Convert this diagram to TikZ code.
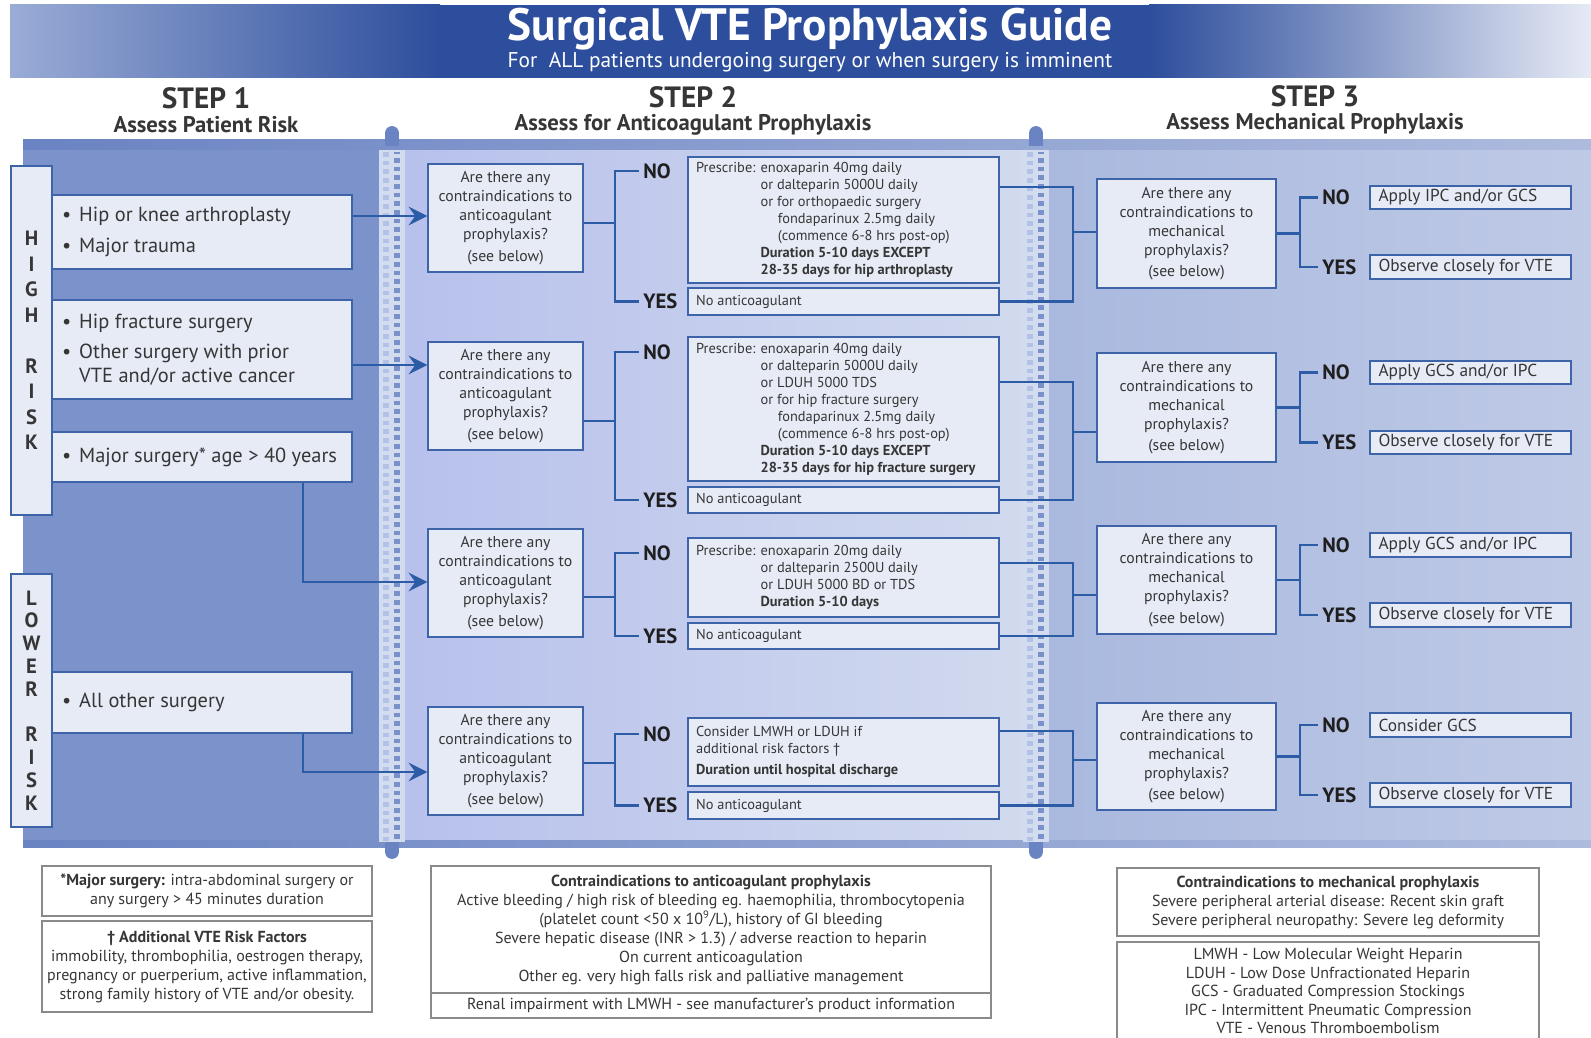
\documentclass[tikz,border=0pt]{standalone}
\usepackage{fontspec}
\setmainfont{PT Sans}
\usetikzlibrary{arrows.meta}
\definecolor{bannerdark}{HTML}{2D4E9C}
\definecolor{bannerleft}{HTML}{9AACD6}
\definecolor{bannerright}{HTML}{E6EAF5}
\definecolor{panelL}{HTML}{7B92CA}
\definecolor{panelM}{HTML}{C7D1EA}
\definecolor{panelR}{HTML}{A9B8DE}
\definecolor{stripC}{HTML}{6A83C2}
\definecolor{boxfill}{HTML}{E6EBF6}
\definecolor{boxline}{HTML}{3D64A9}
\definecolor{conn}{HTML}{2B5CA5}
\definecolor{txt}{HTML}{363636}
\definecolor{ynC}{HTML}{1F1F1F}
\definecolor{bindA}{HTML}{D3DBEF}
\definecolor{bindB}{HTML}{7A90CB}
\definecolor{bindC}{HTML}{B3C1E6}
\definecolor{notegray}{HTML}{8A8A8A}
\newcommand\fsz[2]{\fontsize{#1}{#2}\selectfont}
\newcommand\bnode[7]{\node[#1, minimum width={(#5-#3)*0.75pt}, minimum height={(#6-#4)*0.75pt}] (#2) at ({(#3+#5)/2},{(#4+#6)/2}) {#7};}
\newcommand\pind{\phantom{Prescribe: }}
\newcommand\bul{\textbullet\hspace{6pt}}
\newcommand\nobul{\phantom{\textbullet}\hspace{6pt}}
\begin{document}
\begin{tikzpicture}[x=0.75pt,y=-0.75pt,
  box/.style={draw=boxline, line width=1.1pt, fill=boxfill, inner sep=0pt, text=txt},
  riskbox/.style={box, align=center, font=\bfseries\fsz{15.5}{19.1}},
  sonebox/.style={box, font=\fsz{15.3}{17.6}},
  qbox/.style={box, align=center, font=\fsz{11.8}{14.25}},
  rbox/.style={box, font=\fsz{10.8}{12.75}},
  mbox/.style={box, font=\fsz{13}{14}},
  yn/.style={anchor=west, inner xsep=3pt, inner ysep=0pt, font=\bfseries\fsz{15.5}{15.5}, text=ynC},
  link/.style={draw=conn, line width=1.9pt},
  arr/.style={link, -{Stealth[length=14pt,width=14pt,inset=5pt]}},
  notebox/.style={draw=notegray, line width=0.9pt, fill=white, inner sep=0pt, align=center, text=txt, font=\fsz{12}{14.25}},
  headA/.style={font=\bfseries\fsz{22}{22}, text=txt},
  headB/.style={font=\bfseries\fsz{17}{17}, text=txt}
]
\useasboundingbox (0,0) rectangle (1591,1038);
\fill[white] (0,0) rectangle (1591,1038);
% banner
\shade[left color=bannerleft, right color=bannerdark] (10,5) rectangle (440,78);
\fill[bannerdark] (439,5) rectangle (1150,78);
\shade[left color=bannerdark, right color=bannerright] (1149,5) rectangle (1591,78);
\node[font=\bfseries\fsz{34}{34}, text=white] (title) at (810,29) {Surgical VTE Prophylaxis Guide};
\node[font=\fsz{16}{16}, text=white] (subtitle) at (810,62) {For\ \ ALL patients undergoing surgery or when surgery is imminent};
% step headers
\node[headA] (st1) at (206,98) {STEP 1};
\node[headB] (st1s) at (206,125) {Assess Patient Risk};
\node[headA] (st2) at (693,97) {STEP 2};
\node[headB] (st2s) at (693,125) {Assess for Anticoagulant Prophylaxis};
\node[headA] (st3) at (1315,96) {STEP 3};
\node[headB] (st3s) at (1315,124) {Assess Mechanical Prophylaxis};
% panels
\fill[panelL] (23,143) rectangle (392,845);
\shade[left color=panelM!92!blue, right color=panelM!80!white] (392,143) rectangle (1036,845);
\shade[left color=panelR, right color=panelR!75!white] (1036,143) rectangle (1591,845);
\shade[left color=stripC, right color=stripC!55!white] (23,140) rectangle (1591,150);
\shade[left color=stripC, right color=stripC!55!white] (23,840) rectangle (1591,847);
% bindings
\foreach \bx in {392,1036}{
  \fill[bindA] (\bx-13,150) rectangle (\bx+13,842);
  \draw[bindC, line width=4.5pt, dash pattern=on 3.5pt off 3pt] (\bx-6,152) -- (\bx-6,842);
  \draw[bindB, line width=5pt, dash pattern=on 3.5pt off 3pt, dash phase=2pt] (\bx+5,152) -- (\bx+5,842);
  \fill[stripC] (\bx-7,132) rectangle (\bx+7,146);
  \fill[stripC] (\bx,133) circle[radius=5.2pt];
  \fill[stripC] (\bx-7,842) rectangle (\bx+7,852);
  \fill[stripC] (\bx,852) circle[radius=5.2pt];
}
% risk labels
\bnode{riskbox}{high}{11}{166}{52}{515}{H\\I\\G\\H\\[19.1pt]R\\I\\S\\K}
\bnode{riskbox, font=\bfseries\fsz{15.5}{17.1}}{lower}{11}{574}{52}{827}{L\\O\\W\\E\\R\\[17.1pt]R\\I\\S\\K}
% step 1 boxes
\bnode{sonebox}{s1a}{52}{195}{352}{269}{\parbox{210pt}{\raggedright\bul Hip or knee arthroplasty\\[5pt]\bul Major trauma}}
\bnode{sonebox}{s1b}{52}{300}{352}{399}{\parbox{210pt}{\raggedright\bul Hip fracture surgery\\[5pt]\bul Other surgery with prior\\\nobul VTE and/or active cancer}}
\bnode{sonebox}{s1c}{52}{432}{352}{482}{\parbox{210pt}{\raggedright\bul Major surgery* age > 40 years}}
\bnode{sonebox}{s1d}{52}{672}{352}{733}{\parbox{210pt}{\raggedright\bul All other surgery}}
% step 2 question boxes
\foreach \nm/\ya/\yb in {q1/164/272, q2/342/450, q3/529/637, q4/707/815}{
  \bnode{qbox}{\nm}{428}{\ya}{583}{\yb}{Are there any\\contraindications to\\anticoagulant\\prophylaxis?\\[2pt](see below)}
}
% step 2 result boxes
\bnode{rbox}{r1}{688}{157}{999}{283}{\parbox{221pt}{\raggedright Prescribe: enoxaparin 40mg daily\\
\pind or dalteparin 5000U daily\\
\pind or for orthopaedic surgery\\
\pind\hspace{13pt}fondaparinux 2.5mg daily\\
\pind\hspace{13pt}(commence 6-8 hrs post-op)\\
\pind\textbf{Duration 5-10 days EXCEPT}\\
\pind\textbf{28-35 days for hip arthroplasty}}}
\bnode{rbox}{r2}{688}{337}{999}{481}{\parbox{221pt}{\raggedright Prescribe: enoxaparin 40mg daily\\
\pind or dalteparin 5000U daily\\
\pind or LDUH 5000 TDS\\
\pind or for hip fracture surgery\\
\pind\hspace{13pt}fondaparinux 2.5mg daily\\
\pind\hspace{13pt}(commence 6-8 hrs post-op)\\
\pind\textbf{Duration 5-10 days EXCEPT}\\
\pind\textbf{28-35 days for hip fracture surgery}}}
\bnode{rbox}{r3}{688}{538}{999}{617}{\parbox{221pt}{\raggedright Prescribe: enoxaparin 20mg daily\\
\pind or dalteparin 2500U daily\\
\pind or LDUH 5000 BD or TDS\\
\pind\textbf{Duration 5-10 days}}}
\bnode{rbox}{r4}{688}{718}{999}{786}{\parbox{221pt}{\raggedright Consider LMWH or LDUH if\\
additional risk factors †\\[3pt]
\textbf{Duration until hospital discharge}}}
\foreach \nm/\ya/\yb in {n1/288/315, n2/487/513, n3/623/649, n4/792/819}{
  \bnode{rbox}{\nm}{688}{\ya}{999}{\yb}{\parbox{221pt}{\raggedright No anticoagulant}}
}
% step 2 yes/no labels
\node[yn] (no1) at (639,171) {NO};
\node[yn] (yes1) at (639,301.5) {YES};
\node[yn] (no2) at (639,352) {NO};
\node[yn] (yes2) at (639,500) {YES};
\node[yn] (no3) at (639,553) {NO};
\node[yn] (yes3) at (639,636) {YES};
\node[yn] (no4) at (639,734) {NO};
\node[yn] (yes4) at (639,805.5) {YES};
% step 3 question boxes
\foreach \nm/\ya/\yb in {qa/179/288, qb/353/462, qc/526/634, qd/703/810}{
  \bnode{qbox}{\nm}{1097}{\ya}{1276}{\yb}{Are there any\\contraindications to\\mechanical\\prophylaxis?\\[2pt](see below)}
}
% step 3 result boxes
\bnode{mbox}{ma}{1370}{186}{1571}{209}{\parbox{138pt}{\raggedright Apply IPC and/or GCS}}
\bnode{mbox}{mb}{1370}{255}{1571}{279}{\parbox{138pt}{\raggedright Observe closely for VTE}}
\bnode{mbox}{mc}{1370}{361}{1571}{384}{\parbox{138pt}{\raggedright Apply GCS and/or IPC}}
\bnode{mbox}{md}{1370}{431}{1571}{454}{\parbox{138pt}{\raggedright Observe closely for VTE}}
\bnode{mbox}{me}{1370}{533}{1571}{557}{\parbox{138pt}{\raggedright Apply GCS and/or IPC}}
\bnode{mbox}{mf}{1370}{603}{1571}{627}{\parbox{138pt}{\raggedright Observe closely for VTE}}
\bnode{mbox}{mg}{1370}{713}{1571}{737}{\parbox{138pt}{\raggedright Consider GCS}}
\bnode{mbox}{mh}{1370}{783}{1571}{807}{\parbox{138pt}{\raggedright Observe closely for VTE}}
\node[yn] (noA) at (1318,197.5) {NO};
\node[yn] (yesA) at (1318,267) {YES};
\node[yn] (noB) at (1318,372.5) {NO};
\node[yn] (yesB) at (1318,442.5) {YES};
\node[yn] (noC) at (1318,545) {NO};
\node[yn] (yesC) at (1318,615) {YES};
\node[yn] (noD) at (1318,725) {NO};
\node[yn] (yesD) at (1318,795) {YES};
% step 1 arrows
\draw[arr] (s1a.east |- 0,216) -- (q1.west |- 0,216);
\draw[arr] (s1b.east |- 0,365) -- (q2.west |- 0,365);
\draw[arr] (s1c.south -| 303,0) -- (303,582) -- (q3.west |- 0,582);
\draw[arr] (s1d.south -| 303,0) -- (303,772) -- (q4.west |- 0,772);
% step 2 trunks
\foreach \q/\no/\yes/\yq in {q1/no1/yes1/223, q2/no2/yes2/421, q3/no3/yes3/597, q4/no4/yes4/763}{
  \draw[link] (\q.east |- 0,\yq) -- (615,\yq);
  \draw[link] (\no.west) -- (\no.west -| 615,0) -- (\yes.west -| 615,0) -- (\yes.west);
}
% step 2 -> step 3 brackets
\foreach \r/\n/\q/\yr/\yq in {r1/n1/qa/187/232, r2/n2/qb/382/432, r3/n3/qc/563/595, r4/n4/qd/731/760}{
  \draw[link] (\r.east |- 0,\yr) -- (1073,\yr) -- (\n.east -| 1073,0) -- (\n.east);
  \draw[link] (1073,\yq) -- (\q.west |- 0,\yq);
}
% step 3 trunks
\foreach \q/\no/\yes in {qa/noA/yesA, qb/noB/yesB, qc/noC/yesC, qd/noD/yesD}{
  \draw[link] (\q.east) -- (\q.east -| 1300,0);
  \draw[link] (\no.west) -- (\no.west -| 1300,0) -- (\yes.west -| 1300,0) -- (\yes.west);
}
% notes
\bnode{notebox}{note1}{42}{866}{372}{916}{\textbf{*Major surgery:} intra-abdominal surgery or\\any surgery > 45 minutes duration}
\bnode{notebox}{note2}{42}{921}{372}{1012}{\textbf{† Additional VTE Risk Factors}\\immobility, thrombophilia, oestrogen therapy,\\pregnancy or puerperium, active inflammation,\\strong family history of VTE and/or obesity.}
\bnode{notebox}{note3}{431}{866}{991}{993}{\textbf{Contraindications to anticoagulant prophylaxis}\\Active bleeding / high risk of bleeding eg. haemophilia, thrombocytopenia\\(platelet count <50 x 10\textsuperscript{9}/L), history of GI bleeding\\Severe hepatic disease (INR > 1.3) / adverse reaction to heparin\\On current anticoagulation\\Other eg. very high falls risk and palliative management}
\bnode{notebox}{note4}{431}{993}{991}{1018}{Renal impairment with LMWH - see manufacturer’s product information}
\bnode{notebox}{note5}{1117}{868}{1539}{936}{\textbf{Contraindications to mechanical prophylaxis}\\Severe peripheral arterial disease: Recent skin graft\\Severe peripheral neuropathy: Severe leg deformity}
\bnode{notebox, font=\fsz{12}{13.9}}{note6}{1117}{942}{1539}{1040}{LMWH - Low Molecular Weight Heparin\\LDUH - Low Dose Unfractionated Heparin\\GCS - Graduated Compression Stockings\\IPC - Intermittent Pneumatic Compression\\VTE - Venous Thromboembolism}
\end{tikzpicture}
\end{document}
